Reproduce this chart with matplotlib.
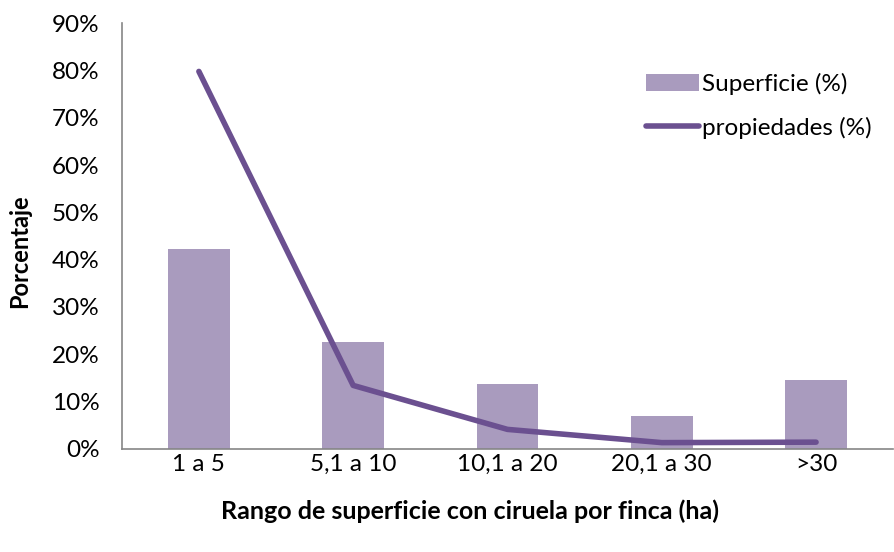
import numpy as np
import matplotlib.pyplot as plt
from matplotlib.ticker import PercentFormatter

plt.rcParams['font.family'] = ['Lato', 'DejaVu Sans']

# rangos de superficie
categorias = ['1 a 5', '5,1 a 10', '10,1 a 20', '20,1 a 30', '>30']
superficie = [42.3, 22.5, 13.6, 7.0, 14.6]
propiedades = [79.8, 13.4, 4.1, 1.3, 1.4]

color_barra = '#A99BBE'
color_linea = '#6B5090'

fig = plt.figure(figsize=(8.95, 5.52), dpi=100)
ax = fig.add_axes([0.136, 0.187, 0.862, 0.771])

x = np.arange(len(categorias))
barras = ax.bar(x, superficie, width=0.4, color=color_barra, label='Superficie (%)')
linea, = ax.plot(x, propiedades, color=color_linea, linewidth=4, solid_capstyle='round',
                 label='propiedades (%)')

ax.set_xlim(-0.5, len(categorias) - 0.5)
ax.set_ylim(0, 90)
ax.set_yticks(np.arange(0, 91, 10))
ax.yaxis.set_major_formatter(PercentFormatter(decimals=0))
ax.set_xticks(x)
ax.set_xticklabels(categorias)
ax.tick_params(axis='both', length=0, labelsize=17.5)
ax.tick_params(axis='x', pad=4)
ax.tick_params(axis='y', pad=16)

for s in ['top', 'right']:
    ax.spines[s].set_visible(False)
for s in ['left', 'bottom']:
    ax.spines[s].set_color('#868686')
    ax.spines[s].set_linewidth(1.2)

ax.set_ylabel('Porcentaje', fontsize=17, fontweight='bold')
ax.yaxis.set_label_coords(-0.117, 0.465)
ax.set_xlabel('Rango de superficie con ciruela por finca (ha)', fontsize=18,
              fontweight='bold')
ax.xaxis.set_label_coords(0.451, -0.12)

ax.legend([barras, linea], ['Superficie (%)', 'propiedades (%)'],
          loc='upper right', bbox_to_anchor=(1.0, 0.935), frameon=False, fontsize=17.5,
          handlelength=2.2, handletextpad=0.1, labelspacing=0.9)

fig.savefig('out.png', dpi=100)
